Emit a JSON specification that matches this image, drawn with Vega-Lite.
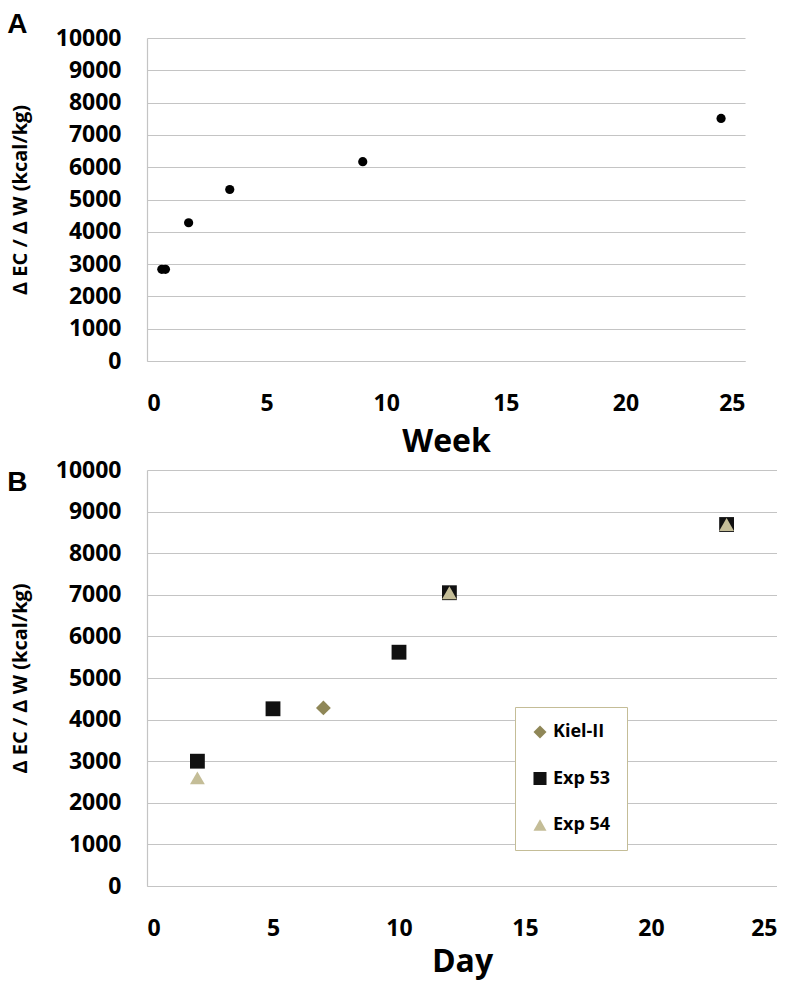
{
  "$schema": "https://vega.github.io/schema/vega-lite/v6.json",
  "padding": {"left": 7, "top": 11, "right": 0, "bottom": 4},
  "background": "white",
  "spacing": 2,
  "align": "none",
  "config": {
    "font": "Open Sans",
    "view": {"stroke": null},
    "axis": {
      "labelFont": "Open Sans",
      "labelFontWeight": "bold",
      "labelColor": "black",
      "titleFont": "Open Sans",
      "titleColor": "black",
      "titleFontWeight": "bold",
      "gridColor": "#c4c4c4",
      "gridWidth": 1.2,
      "domainColor": "#c4c4c4",
      "domainWidth": 1.2,
      "ticks": false
    },
    "title": {"font": "Liberation Sans", "fontWeight": "bold", "fontSize": 28, "color": "black", "anchor": "start", "frame": "bounds"}
  },
  "vconcat": [
    {
      "title": {"text": "A", "dx": -3, "offset": -12},
      "width": 598,
      "height": 323,
      "data": {"values": [
        {"week": 0.62, "ratio": 2840},
        {"week": 0.77, "ratio": 2840},
        {"week": 1.74, "ratio": 4280},
        {"week": 3.46, "ratio": 5310},
        {"week": 9.02, "ratio": 6170},
        {"week": 24.0, "ratio": 7510}
      ]},
      "mark": {"type": "point", "filled": true, "shape": "circle", "size": 85, "color": "black", "opacity": 1},
      "encoding": {
        "x": {"field": "week", "type": "quantitative", "scale": {"domain": [0, 25], "nice": false},
          "axis": {"values": [0, 5, 10, 15, 20, 25], "grid": false, "labelFontSize": 23, "labelPadding": 31, "title": "Week", "titleFontSize": 32, "titlePadding": 11}},
        "y": {"field": "ratio", "type": "quantitative", "scale": {"domain": [0, 10000], "nice": false},
          "axis": {"values": [0, 1000, 2000, 3000, 4000, 5000, 6000, 7000, 8000, 9000, 10000], "format": "d", "labelFontSize": 23, "labelPadding": 26, "title": "Δ EC / Δ W (kcal/kg)", "titleFontSize": 20, "titlePadding": 25}}
      }
    },
    {
      "title": {"text": "B", "dx": -3, "dy": 8, "offset": -30},
      "width": 630,
      "height": 416,
      "data": {"values": [
        {"day": 2, "ratio": 3000, "series": "Exp 53"},
        {"day": 5, "ratio": 4260, "series": "Exp 53"},
        {"day": 10, "ratio": 5620, "series": "Exp 53"},
        {"day": 12, "ratio": 7050, "series": "Exp 53"},
        {"day": 23, "ratio": 8690, "series": "Exp 53"},
        {"day": 7, "ratio": 4280, "series": "Kiel-II"},
        {"day": 2, "ratio": 2600, "series": "Exp 54"},
        {"day": 12, "ratio": 7050, "series": "Exp 54"},
        {"day": 23, "ratio": 8690, "series": "Exp 54"}
      ]},
      "mark": {"type": "point", "filled": true, "size": 220, "opacity": 1},
      "encoding": {
        "x": {"field": "day", "type": "quantitative", "scale": {"domain": [0, 25], "nice": false},
          "axis": {"values": [0, 5, 10, 15, 20, 25], "grid": false, "labelFontSize": 23, "labelPadding": 31, "title": "Day", "titleFontSize": 32, "titlePadding": 6}},
        "y": {"field": "ratio", "type": "quantitative", "scale": {"domain": [0, 10000], "nice": false},
          "axis": {"values": [0, 1000, 2000, 3000, 4000, 5000, 6000, 7000, 8000, 9000, 10000], "format": "d", "labelFontSize": 23, "labelPadding": 26, "title": "Δ EC / Δ W (kcal/kg)", "titleFontSize": 20, "titlePadding": 25}},
        "shape": {"field": "series", "type": "nominal",
          "scale": {"domain": ["Kiel-II", "Exp 53", "Exp 54"], "range": ["diamond", "square", "triangle-up"]},
          "legend": {"title": null, "orient": "none", "legendX": 368, "legendY": 669, "padding": 16, "strokeColor": "#c4bd97", "fillColor": "white", "rowPadding": 28.5, "symbolSize": 170, "labelFontSize": 18, "labelFont": "Open Sans", "labelFontWeight": "bold", "labelColor": "black", "labelOffset": 4, "symbolStrokeWidth": 0}},
        "color": {"field": "series", "type": "nominal",
          "scale": {"domain": ["Kiel-II", "Exp 53", "Exp 54"], "range": ["#8f8757", "#111111", "#c4bd97"]}},
        "order": {"field": "series", "sort": "ascending"}
      }
    }
  ]
}
